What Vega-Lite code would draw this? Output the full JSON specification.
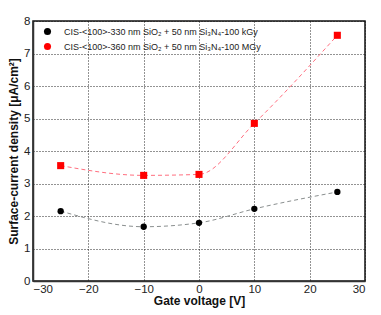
{
  "$schema": "https://vega.github.io/schema/vega-lite/v6.json",
  "width": 332,
  "height": 260,
  "autosize": "none",
  "padding": {"left": 33, "top": 21, "right": 16, "bottom": 34},
  "config": {
    "font": "Liberation Sans",
    "view": {"stroke": "#111", "strokeWidth": 1.5},
    "axis": {
      "labelFont": "Liberation Sans",
      "titleFont": "Liberation Sans",
      "labelFontSize": 11.5,
      "labelColor": "#222",
      "titleFontSize": 12,
      "titleFontWeight": "bold",
      "titleColor": "#111",
      "domainColor": "#333",
      "domainWidth": 1.5,
      "tickSize": 0,
      "gridColor": "#111",
      "gridDash": [1, 2],
      "gridOpacity": 0.9,
      "gridWidth": 1
    }
  },
  "data": {
    "values": [
      {"v": -25, "j": 2.15, "s": "CIS-<100>-330 nm SiO₂ + 50 nm Si₃N₄-100 kGy"},
      {"v": -10, "j": 1.67, "s": "CIS-<100>-330 nm SiO₂ + 50 nm Si₃N₄-100 kGy"},
      {"v": 0, "j": 1.79, "s": "CIS-<100>-330 nm SiO₂ + 50 nm Si₃N₄-100 kGy"},
      {"v": 10, "j": 2.22, "s": "CIS-<100>-330 nm SiO₂ + 50 nm Si₃N₄-100 kGy"},
      {"v": 25, "j": 2.74, "s": "CIS-<100>-330 nm SiO₂ + 50 nm Si₃N₄-100 kGy"},
      {"v": -25, "j": 3.55, "s": "CIS-<100>-360 nm SiO₂ + 50 nm Si₃N₄-100 MGy"},
      {"v": -10, "j": 3.25, "s": "CIS-<100>-360 nm SiO₂ + 50 nm Si₃N₄-100 MGy"},
      {"v": 0, "j": 3.28, "s": "CIS-<100>-360 nm SiO₂ + 50 nm Si₃N₄-100 MGy"},
      {"v": 10, "j": 4.85, "s": "CIS-<100>-360 nm SiO₂ + 50 nm Si₃N₄-100 MGy"},
      {"v": 25, "j": 7.56, "s": "CIS-<100>-360 nm SiO₂ + 50 nm Si₃N₄-100 MGy"}
    ]
  },
  "encoding": {
    "x": {
      "field": "v", "type": "quantitative",
      "scale": {"domain": [-30, 30], "nice": false},
      "axis": {"values": [-30, -20, -10, 0, 10, 20, 30], "title": "Gate voltage [V]", "titlePadding": 1, "labelPadding": 2, "labelExpr": "replace(datum.label, '-', '−')"}
    },
    "y": {
      "field": "j", "type": "quantitative",
      "scale": {"domain": [0, 8], "nice": false},
      "axis": {"values": [0, 1, 2, 3, 4, 5, 6, 7, 8], "title": "Surface-current density [μA/cm²]", "titlePadding": 3, "labelPadding": 3}
    }
  },
  "layer": [
    {
      "mark": {"type": "line", "interpolate": "monotone", "strokeDash": [4, 3], "strokeWidth": 1},
      "encoding": {
        "color": {"field": "s", "type": "nominal", "scale": {"range": ["#8a8f8f", "#ff6f7f"]}, "legend": null}
      }
    },
    {
      "mark": {"type": "point", "filled": true, "opacity": 1},
      "encoding": {
        "color": {"field": "s", "type": "nominal", "scale": {"range": ["#000000", "#ff0000"]}, "legend": {"orient": "none", "legendX": 10, "legendY": 6, "title": null, "labelFontSize": 9, "labelLimit": 0, "labelColor": "#222", "symbolSize": 50, "rowPadding": 5, "labelOffset": 12}},
        "shape": {"field": "s", "type": "nominal", "scale": {"range": ["circle", "square"]}},
        "size": {"field": "s", "type": "nominal", "scale": {"range": [40, 50]}, "legend": null}
      }
    }
  ],
  "resolve": {"scale": {"color": "independent"}}
}
